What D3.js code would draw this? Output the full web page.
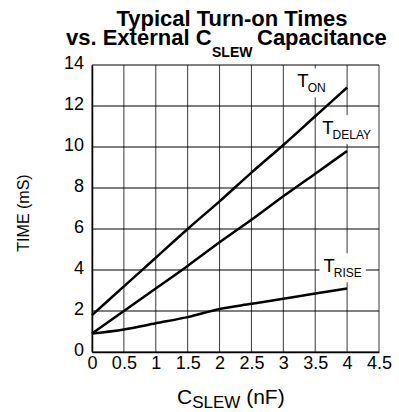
<!DOCTYPE html>
<html>
<head>
<meta charset="utf-8">
<script src="https://cdn.jsdelivr.net/npm/d3@7/dist/d3.min.js"></script>
<style>
  html, body { margin: 0; padding: 0; background: #fff; }
  svg { display: block; font-family: "Liberation Sans", Arial, Helvetica, sans-serif; }
</style>
</head>
<body>
<svg id="chart" width="399" height="412"></svg>
<script>
// Capacitance values (nF) and turn-on times (ms)
const capT = [0, 0.5, 1, 1.5, 2, 2.5, 3, 3.5, 4];
const tOn = [1.8, 3.2, 4.6, 6.0, 7.35, 8.75, 10.1, 11.5, 12.9];
const tDelay = [0.9, 2.0, 3.1, 4.2, 5.35, 6.45, 7.6, 8.7, 9.8];
const tRise = [0.9, 1.1, 1.4, 1.7, 2.1, 2.35, 2.6, 2.85, 3.1];

const xTicks = [0, 0.5, 1, 1.5, 2, 2.5, 3, 3.5, 4, 4.5];
const yTicks = [0, 2, 4, 6, 8, 10, 12, 14];

// Curve labels: main text, subscript, anchor point (nF, ms)
const labelNames = ["T", "T", "T"];
const labelSubs = ["ON", "DELAY", "RISE"];
const labelX = [3.22, 3.61, 3.63];
const labelY = [12.91, 10.63, 3.89];

const svg = d3.select("#chart");
const plot = { left: 92, top: 65, right: 379, bottom: 352 };

const x = d3.scaleLinear().domain([0, 4.5]).range([plot.left, plot.right]);
const y = d3.scaleLinear().domain([0, 14]).range([plot.bottom, plot.top]);

// Title, two lines
svg.append("text")
  .attr("font-weight", "bold")
  .attr("font-size", 22)
  .attr("x", 232).attr("y", 26).attr("text-anchor", "middle")
  .text("Typical Turn-on Times");
const t2 = svg.append("text")
  .attr("font-weight", "bold")
  .attr("font-size", 22)
  .attr("y", 45);
t2.append("tspan").attr("x", 66).text("vs. External C");
t2.append("tspan").attr("x", 212).attr("font-size", 14).attr("dy", 12).text("SLEW");
t2.append("tspan").attr("x", 257).attr("dy", -12).text("Capacitance");

// Grid
const grid = svg.append("g");
grid.selectAll("line.v").data(xTicks).join("line")
  .attr("x1", d => x(d)).attr("x2", d => x(d))
  .attr("y1", plot.top).attr("y2", plot.bottom)
  .attr("stroke", "#3a3a3a").attr("stroke-width", 1);
grid.selectAll("line.h").data(yTicks).join("line")
  .attr("x1", plot.left).attr("x2", plot.right)
  .attr("y1", d => y(d)).attr("y2", d => y(d))
  .attr("stroke", "#000").attr("stroke-width", 1);

// Axes (tick labels; frame comes from the grid)
const xAxis = d3.axisBottom(x).tickValues(xTicks).tickSize(0).tickPadding(0)
  .tickFormat(d => String(d));
const gx = svg.append("g").attr("transform", `translate(0,${plot.bottom})`).call(xAxis);
gx.select(".domain").attr("stroke", "#000").attr("stroke-width", 1.5);
gx.selectAll("text").attr("font-size", 18).attr("font-family", "Liberation Sans, Arial, sans-serif")
  .attr("fill", "#000").attr("y", 17).attr("dy", 0);

const yAxis = d3.axisLeft(y).tickValues(yTicks).tickSize(0).tickPadding(8)
  .tickFormat(d => String(d));
const gy = svg.append("g").attr("transform", `translate(${plot.left},0)`).call(yAxis);
gy.select(".domain").attr("stroke", "#000").attr("stroke-width", 1.5);
gy.selectAll("text").attr("font-size", 18).attr("font-family", "Liberation Sans, Arial, sans-serif")
  .attr("fill", "#000").attr("dy", 3);

// Axis titles
svg.append("text")
  .attr("transform", `translate(29,213) rotate(-90)`)
  .attr("text-anchor", "middle")
  .attr("font-size", 16)
  .text("TIME (mS)");

const xt = svg.append("text").attr("x", 177).attr("y", 404).attr("font-size", 21);
xt.append("tspan").text("C");
xt.append("tspan").attr("font-size", 17).attr("dy", 4).text("SLEW");
xt.append("tspan").attr("dy", -4).text(" (nF)");

// Curves
const line = d3.line().x(d => x(d[0])).y(d => y(d[1])).curve(d3.curveMonotoneX);
[tOn, tDelay, tRise].forEach(series => {
  svg.append("path")
    .datum(capT.map((c, i) => [c, series[i]]))
    .attr("d", line)
    .attr("fill", "none")
    .attr("stroke", "#000")
    .attr("stroke-width", 2.5)
    .attr("stroke-linejoin", "round");
});

// Curve labels on white backing
labelNames.forEach((name, i) => {
  const g = svg.append("g");
  const t = g.append("text")
    .attr("x", x(labelX[i])).attr("y", y(labelY[i]))
    .attr("font-size", 18.5);
  t.append("tspan").text(name);
  t.append("tspan").attr("font-size", 12).attr("dx", -1).attr("dy", 5).text(labelSubs[i]);
  const bb = t.node().getBBox();
  const top = Math.max(bb.y - 2, plot.top + 1);
  g.insert("rect", "text")
    .attr("x", bb.x - 4).attr("y", top)
    .attr("width", bb.width + 8)
    .attr("height", bb.y + bb.height + 2 - top)
    .attr("fill", "#fff");
});
</script>
</body>
</html>
